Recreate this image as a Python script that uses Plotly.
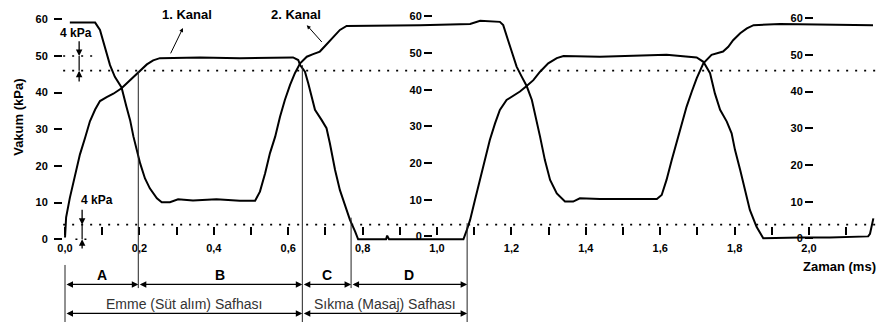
import plotly.graph_objects as go

# ---------------- data ----------------
# time in ms, vacuum in kPa
t_kanal1 = [0.0, 0.003, 0.013, 0.027, 0.040, 0.054, 0.067, 0.081, 0.094, 0.112, 0.130, 0.152,
            0.175, 0.197, 0.220, 0.237, 0.255, 0.363, 0.470, 0.613, 0.627, 0.632, 0.645, 0.654,
            0.663, 0.672, 0.690, 0.703, 0.712, 0.726, 0.739, 0.753, 0.766, 0.780, 0.788, 0.863,
            0.866, 0.871, 1.071, 1.080, 1.089, 1.102, 1.116, 1.129, 1.142, 1.156, 1.169, 1.187,
            1.210, 1.223, 1.241, 1.259, 1.277, 1.299, 1.322, 1.340, 1.438, 1.617, 1.698, 1.716,
            1.734, 1.747, 1.761, 1.779, 1.792, 1.801, 1.815, 1.828, 1.841, 1.859, 1.877, 1.976,
            2.056, 2.159, 2.164, 2.173]
v_kanal1 = [0.5, 6.0, 11.3, 17.7, 23.1, 27.7, 32.2, 35.4, 37.7, 38.8, 39.7, 41.2,
            43.4, 45.4, 47.7, 48.8, 49.4, 49.6, 49.4, 49.6, 48.9, 47.5, 45.7, 42.5,
            38.9, 35.3, 32.5, 30.3, 26.2, 18.9, 13.4, 8.9, 5.3, 2.1, 0.0, 0.0,
            1.0, 0.0, 0.0, 2.5, 5.3, 10.7, 16.2, 21.6, 27.1, 31.6, 35.3, 38.0,
            39.4, 40.3, 41.8, 43.4, 45.7, 48.0, 49.4, 50.0, 49.8, 50.3, 49.6, 48.4,
            45.3, 39.8, 35.3, 32.1, 28.9, 24.4, 18.9, 13.4, 8.0, 3.4, 0.3, 0.5,
            0.5, 0.8, 1.5, 5.7]

t_kanal2 = [0.013, 0.081, 0.094, 0.103, 0.112, 0.121, 0.134, 0.152, 0.165, 0.175, 0.184, 0.194,
            0.202, 0.215, 0.228, 0.247, 0.260, 0.282, 0.304, 0.344, 0.407, 0.470, 0.511, 0.524,
            0.538, 0.551, 0.565, 0.578, 0.591, 0.605, 0.618, 0.632, 0.650, 0.667, 0.685, 0.699,
            0.717, 0.739, 0.757, 0.874, 0.954, 1.089, 1.116, 1.169, 1.178, 1.191, 1.200, 1.214,
            1.228, 1.241, 1.255, 1.268, 1.277, 1.290, 1.304, 1.322, 1.344, 1.366, 1.384, 1.438,
            1.527, 1.591, 1.604, 1.617, 1.631, 1.644, 1.658, 1.671, 1.685, 1.698, 1.716, 1.738,
            1.769, 1.783, 1.796, 1.815, 1.833, 1.851, 1.922, 2.172]
v_kanal2 = [59.1, 59.1, 57.1, 53.9, 50.7, 47.5, 44.3, 41.4, 36.2, 32.5, 28.0, 23.5,
            20.7, 16.6, 13.9, 11.2, 10.1, 10.1, 10.9, 10.6, 10.9, 10.5, 10.5, 13.0,
            18.0, 23.5, 28.0, 33.4, 38.0, 42.1, 45.3, 48.0, 49.8, 50.5, 51.2, 52.7,
            54.8, 57.1, 58.2, 58.2, 58.4, 58.7, 59.6, 59.3, 58.4, 54.3, 51.2, 47.1,
            44.3, 41.8, 38.0, 32.6, 28.0, 21.6, 16.2, 12.5, 10.3, 10.3, 11.2, 11.0,
            10.9, 11.0, 12.1, 16.2, 21.6, 26.2, 31.6, 36.2, 40.3, 43.9, 48.0, 50.3,
            51.2, 52.5, 54.3, 56.2, 57.5, 58.4, 58.7, 58.4]

x_tick_vals = [0.0, 0.1, 0.2, 0.3, 0.4, 0.5, 0.6, 0.7, 0.8, 0.9, 1.0,
               1.1, 1.2, 1.3, 1.4, 1.5, 1.6, 1.7, 1.8, 1.9, 2.0, 2.1]
x_tick_text = ["0,0", "", "0,2", "", "0,4", "", "0,6", "", "0,8", "", "1,0",
               "", "1,2", "", "1,4", "", "1,6", "", "1,8", "", "2,0", ""]
y_tick_vals = [0, 10, 20, 30, 40, 50, 60]

ref_levels = [46, 4]            # dotted limit lines (kPa)
phase_bounds = [0.0, 0.197, 0.638, 0.769, 1.081]
phase_labels = ["A", "B", "C", "D"]
stage_bounds = [0.0, 0.638, 1.081]
stage_labels = ["Emme (Süt alım) Safhası", "Sıkma (Masaj) Safhası"]

# ---------------- figure ----------------
# the page body keeps its default 8 px margin, so the figure is 880 x 314
FONT = "Liberation Sans, Arial, sans-serif"
BLACK = "#000000"
XR = [-0.0054, 2.2016]
YR = [-22.55, 63.08]

fig = go.Figure()
fig.add_trace(go.Scatter(x=t_kanal1, y=v_kanal1, mode="lines", name="1. Kanal",
                         line=dict(color=BLACK, width=2)))
fig.add_trace(go.Scatter(x=t_kanal2, y=v_kanal2, mode="lines", name="2. Kanal",
                         line=dict(color=BLACK, width=2)))
# carriers so the repeated vacuum scales get drawn
for ax in ("y2", "y3"):
    fig.add_trace(go.Scatter(x=[None], y=[None], yaxis=ax, mode="lines",
                             showlegend=False, hoverinfo="skip"))

shapes = []
dot = dict(color=BLACK, width=1.6, dash="2px,7px")
for lv in ref_levels:
    shapes.append(dict(type="line", xref="x", yref="y", x0=-0.005, x1=2.19, y0=lv, y1=lv, line=dot))
# short dotted lines at 50 and 0 kPa for the 4 kPa dimension marks
shapes.append(dict(type="line", xref="x", yref="y", x0=-0.005, x1=0.086, y0=50, y1=50, line=dot))
shapes.append(dict(type="line", xref="x", yref="y", x0=0.028, x1=0.065, y0=0, y1=0, line=dot))

thin = dict(color="#222222", width=1)
vlines = [(phase_bounds[0], -7.0, YR[0]),
          (phase_bounds[1], 45.9, -13.3),
          (phase_bounds[2], 47.5, YR[0]),
          (phase_bounds[3], 5.9, -13.3),
          (phase_bounds[4], 4.4, YR[0])]
for xv, ytop, ybot in vlines:
    shapes.append(dict(type="line", xref="x", yref="y", x0=xv, x1=xv, y0=ytop, y1=ybot, line=thin))
# dimension stems
shapes.append(dict(type="line", xref="x", yref="y", x0=0.038, x1=0.038, y0=46, y1=50,
                   line=dict(color=BLACK, width=1.2)))
shapes.append(dict(type="line", xref="x", yref="y", x0=0.046, x1=0.046, y0=0, y1=4,
                   line=dict(color=BLACK, width=1.2)))


def arrow(x0, y0, x1, y1, both=False, size=1.0, width=1.3):
    return dict(x=x1, y=y1, ax=x0, ay=y0, xref="x", yref="y", axref="x", ayref="y",
                text="", showarrow=True, arrowhead=2, arrowsize=size, arrowwidth=width,
                arrowcolor=BLACK, arrowside="end+start" if both else "end",
                standoff=0, startstandoff=0)


def label(x, y, text, size=13, bold=True, color=BLACK, xref="x", angle=0):
    return dict(x=x, y=y, xref=xref, yref="y", text=text, showarrow=False, textangle=angle,
                font=dict(family=FONT, size=size, color=color, weight="bold" if bold else "normal"),
                xanchor="center", yanchor="middle")


ann = []
# 4 kPa dimension arrows
ann.append(arrow(0.038, 54.4, 0.038, 50.0))
ann.append(arrow(0.038, 42.6, 0.038, 46.0))
ann.append(arrow(0.046, 8.5, 0.046, 4.0))
ann.append(arrow(0.046, -2.9, 0.046, 0.0))
ann.append(label(0.030, 56.3, "4 kPa", size=12))
ann.append(label(0.087, 10.7, "4 kPa", size=12))
# channel labels
ann.append(label(0.329, 61.2, "1. Kanal"))
ann.append(label(0.622, 61.2, "2. Kanal"))
ann.append(arrow(0.282, 50.3, 0.317, 57.6, size=0.8, width=1))
ann.append(arrow(0.694, 53.4, 0.650, 58.4, size=0.8, width=1))
# axis titles
ann.append(label(-0.0536, 33.4, "Vakum (kPa)", xref="paper", angle=-90))
ann.append(label(2.083, -7.5, "Zaman (ms)"))
# phase brackets
for i, lab in enumerate(phase_labels):
    a, b = phase_bounds[i], phase_bounds[i + 1]
    ann.append(arrow(a, -12.3, b, -12.3, both=True))
    ann.append(label((a + b) / 2, -9.7, lab, size=14))
for i, lab in enumerate(stage_labels):
    a, b = stage_bounds[i], stage_bounds[i + 1]
    ann.append(arrow(a, -20.2, b, -20.2, both=True))
    ann.append(label((a + b) / 2, -17.7, lab, size=14, bold=False, color="#333333"))

tickfont = dict(family=FONT, size=11, color=BLACK, weight="bold")
common_y = dict(tickvals=y_tick_vals, ticks="outside", ticklen=8, tickwidth=2, tickcolor=BLACK,
                showline=False, showgrid=False, zeroline=False, tickfont=tickfont,
                automargin=False)

fig.update_layout(
    template="none",
    width=880, height=314,
    margin=dict(l=55, r=4, t=0, b=0, pad=0),
    paper_bgcolor="white", plot_bgcolor="white",
    showlegend=False,
    font=dict(family=FONT, color=BLACK),
    xaxis=dict(range=XR, anchor="free", position=0.277, tickvals=x_tick_vals, ticktext=x_tick_text,
               ticks="inside", ticklen=8, tickwidth=1.5, tickcolor=BLACK, ticklabelstandoff=5,
               showline=False, showgrid=False, zeroline=False, tickfont=tickfont,
               automargin=False),
    yaxis=dict(range=YR, ticklabelstandoff=4, **common_y),
    yaxis2=dict(range=[YR[0] - 0.8, YR[1] - 0.8], overlaying="y", anchor="free", position=0.4495,
                side="left", ticklabelstandoff=0, **common_y),
    yaxis3=dict(range=[YR[0] - 0.27, YR[1] - 0.27], overlaying="y", anchor="free", position=0.9135,
                side="left", ticklabelstandoff=0, **common_y),
    shapes=shapes,
    annotations=ann,
)

fig.write_html("out.html")
